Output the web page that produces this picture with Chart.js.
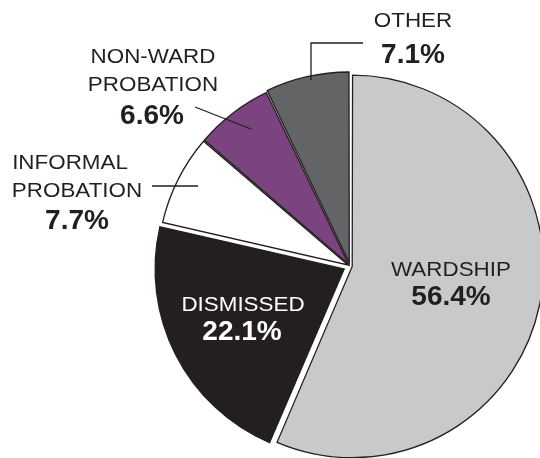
<!DOCTYPE html>
<html>
<head>
<meta charset="utf-8">
<script src="https://cdn.jsdelivr.net/npm/chart.js@4.4.1/dist/chart.umd.min.js"></script>
<style>
  html, body { margin: 0; padding: 0; background: #fff; }
  #wrap { width: 540px; height: 458px; }
</style>
</head>
<body>
<div id="wrap"><canvas id="chart" width="540" height="458"></canvas></div>
<script>
// data, clockwise from 12 o'clock
const categories = ['WARDSHIP', 'DISMISSED', 'INFORMAL PROBATION', 'NON-WARD PROBATION', 'OTHER']
const values = [56.4, 22.1, 7.7, 6.6, 7.1]
const nameLines = [['WARDSHIP'], ['DISMISSED'], ['INFORMAL', 'PROBATION'], ['NON-WARD', 'PROBATION'], ['OTHER']]

const colors = ['#c8c9cb', '#231f20', '#ffffff', '#7b4380', '#636466']
const textColors = ['#231f20', '#ffffff', '#231f20', '#231f20', '#231f20']
const offsets = [9, 26, 9, 9, 13]

const ink = '#231f20'
const regular = '20px "Liberation Sans", Arial, sans-serif'
const bold = 'bold 28px "Liberation Sans", Arial, sans-serif'

// label placement relative to the pie centre: x centres and baselines of each text line, then leader line
const labelLayout = [
  { lines: [[101, 10]], pct: [101, 39], leader: null },
  { lines: [[-107, 45]], pct: [-108, 74], leader: null },
  { lines: [[-280, -97], [-273, -69]], pct: [-273, -37], leader: [[-198, -80], [-152, -80]] },
  { lines: [[-197, -203], [-197, -175]], pct: [-198, -142], leader: [[-155, -159], [-99, -137]] },
  { lines: [[63, -239]], pct: [63, -203], leader: [[-39, -186], [-39, -223], [13, -223]] }
]

function drawText(ctx, text, x, y, font, color, sx) {
  ctx.save()
  ctx.font = font
  ctx.fillStyle = color
  ctx.textAlign = 'center'
  ctx.textBaseline = 'alphabetic'
  ctx.translate(x, y)
  ctx.scale(sx, 1)
  ctx.fillText(text, 0, 0)
  ctx.restore()
}

const pieLabels = {
  id: 'pieLabels',
  afterDatasetsDraw(chart) {
    const ctx = chart.ctx
    const arcs = chart.getDatasetMeta(0).data
    const cx = arcs[0].x
    const cy = arcs[0].y
    labelLayout.forEach((lay, i) => {
      if (lay.leader) {
        ctx.save()
        ctx.strokeStyle = ink
        ctx.lineWidth = 1.3
        ctx.beginPath()
        lay.leader.forEach((p, j) => {
          if (j === 0) ctx.moveTo(cx + p[0], cy + p[1])
          else ctx.lineTo(cx + p[0], cy + p[1])
        })
        ctx.stroke()
        ctx.restore()
      }
      nameLines[i].forEach((t, j) => {
        drawText(ctx, t, cx + lay.lines[j][0], cy + lay.lines[j][1], regular, textColors[i], 1.12)
      })
      drawText(ctx, values[i].toFixed(1) + '%', cx + lay.pct[0], cy + lay.pct[1], bold, textColors[i], 1)
    })
  }
}

new Chart(document.getElementById('chart'), {
  type: 'pie',
  data: {
    labels: categories,
    datasets: [{
      data: values,
      backgroundColor: colors,
      borderColor: ink,
      borderWidth: 1.3,
      borderJoinStyle: 'miter',
      offset: offsets,
      clip: false
    }]
  },
  options: {
    responsive: false,
    animation: false,
    events: [],
    radius: 189,
    layout: { padding: { left: 160, right: 0, top: 74, bottom: 0 } },
    plugins: {
      legend: { display: false },
      tooltip: { enabled: false }
    }
  },
  plugins: [pieLabels]
})
</script>
</body>
</html>
